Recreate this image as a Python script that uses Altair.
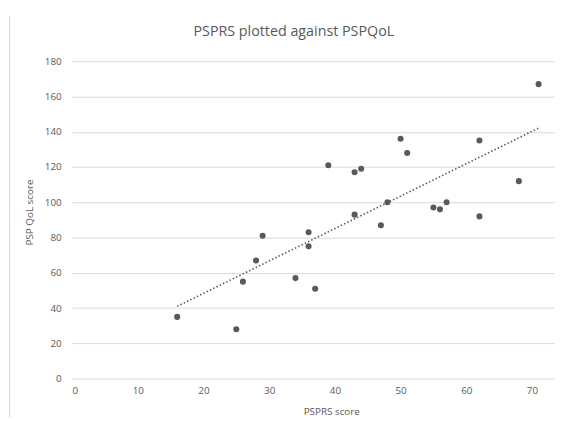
import altair as alt
import pandas as pd

# Data
psprs = [16, 25, 26, 28, 29, 34, 36, 36, 37, 39, 43, 43, 44, 47, 48, 50, 51, 55, 56, 57, 62, 62, 68, 71]
qol = [35, 28, 55, 67, 81, 57, 83, 75, 51, 121, 117, 93, 119, 87, 100, 136, 128, 97, 96, 100, 135, 92, 112, 167]
x_ticks = [0, 10, 20, 30, 40, 50, 60, 70]
y_ticks = [0, 20, 40, 60, 80, 100, 120, 140, 160, 180]

df = pd.DataFrame({"PSPRS": psprs, "QoL": qol})

FONT = "Open Sans"
GREY = "#595959"
GRID = "#d9d9d9"

x_enc = alt.X(
    "PSPRS:Q",
    scale=alt.Scale(domain=[0, 73.5], nice=False, zero=True),
    axis=alt.Axis(
        values=x_ticks, title="PSPRS score", grid=False, domain=False, ticks=False,
        labelPadding=7, labelFont=FONT, labelFontSize=10, labelColor=GREY,
        labelOverlap=False,
        titleFont=FONT, titleFontSize=10, titleColor=GREY, titleFontWeight="normal",
        titleX=263, titleY=28,
    ),
)
y_enc = alt.Y(
    "QoL:Q",
    scale=alt.Scale(domain=[0, 180], nice=False),
    axis=alt.Axis(
        values=y_ticks, title="PSP QoL score", grid=True, gridColor=GRID, gridWidth=1,
        domain=False, ticks=False, labelPadding=11, labelOverlap=False,
        labelFont=FONT, labelFontSize=10, labelColor=GREY,
        titleFont=FONT, titleFontSize=10, titleColor=GREY, titleFontWeight="normal",
        titleX=-38, titleY=153,
    ),
)

base = alt.Chart(df)

points = base.mark_circle(size=38, color=GREY, opacity=1).encode(x=x_enc, y=y_enc)

trend = (
    base.transform_regression("PSPRS", "QoL")
    .mark_line(color=GREY, strokeDash=[1.5, 2.2], strokeWidth=1.6)
    .encode(x=x_enc, y=y_enc)
)

border = (
    alt.Chart(pd.DataFrame({"a": [0]}))
    .mark_rule(color=GRID, strokeWidth=1)
    .encode(x=alt.value(-63.4), y=alt.value(-46), y2=alt.value(362))
)

chart = (
    alt.layer(border, trend, points)
    .properties(
        width=490,
        height=322,
        title=alt.TitleParams(
            "PSPRS plotted against PSPQoL", font=FONT, fontSize=14.5, color=GREY,
            fontWeight="normal", anchor="middle", frame="group", dx=-20, offset=-24,
        ),
        autosize=alt.AutoSizeParams(type="none"),
        padding={"left": 65, "top": 51, "right": 0, "bottom": 40},
    )
    .configure_view(stroke=None)
)

chart.save("out.html", embed_options={"renderer": "svg", "actions": False})
